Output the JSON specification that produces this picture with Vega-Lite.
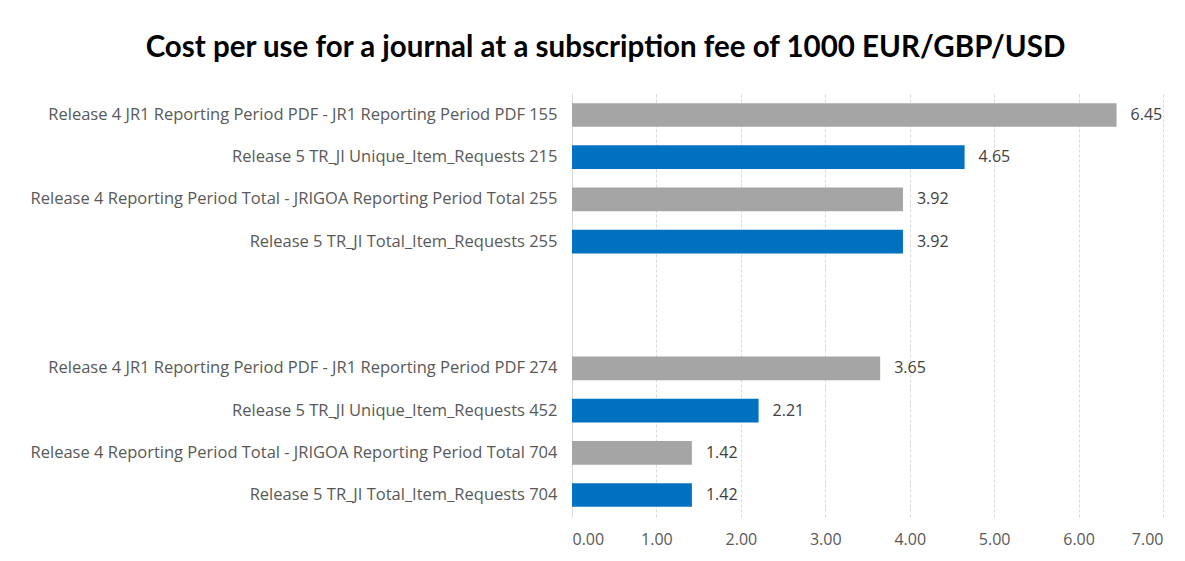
{
  "$schema": "https://vega.github.io/schema/vega-lite/v6.json",
  "width": 591,
  "height": 424,
  "autosize": {"type": "none"},
  "padding": {"left": 572, "top": 93, "right": 22, "bottom": 44},
  "background": "white",
  "title": {
    "text": "Cost per use for a journal at a subscription fee of 1000 EUR/GBP/USD",
    "font": "Lato",
    "fontSize": 29.5,
    "fontWeight": "bold",
    "color": "#000000",
    "anchor": "middle",
    "frame": "group",
    "dx": -262,
    "offset": 30
  },
  "data": {
    "values": [
      {"label": "Release 4 JR1 Reporting Period PDF - JR1 Reporting Period PDF 155", "release": "Release 4", "cost": 6.45},
      {"label": "Release 5 TR_JI Unique_Item_Requests 215", "release": "Release 5", "cost": 4.65},
      {"label": "Release 4 Reporting Period Total - JRIGOA Reporting Period Total 255", "release": "Release 4", "cost": 3.92},
      {"label": "Release 5 TR_JI Total_Item_Requests 255", "release": "Release 5", "cost": 3.92},
      {"label": "Release 4 JR1 Reporting Period PDF - JR1 Reporting Period PDF 274", "release": "Release 4", "cost": 3.65},
      {"label": "Release 5 TR_JI Unique_Item_Requests 452", "release": "Release 5", "cost": 2.21},
      {"label": "Release 4 Reporting Period Total - JRIGOA Reporting Period Total 704", "release": "Release 4", "cost": 1.42},
      {"label": "Release 5 TR_JI Total_Item_Requests 704", "release": "Release 5", "cost": 1.42}
    ]
  },
  "encoding": {
    "y": {
      "field": "label",
      "type": "nominal",
      "title": null,
      "scale": {
        "domain": [
          "Release 4 JR1 Reporting Period PDF - JR1 Reporting Period PDF 155",
          "Release 5 TR_JI Unique_Item_Requests 215",
          "Release 4 Reporting Period Total - JRIGOA Reporting Period Total 255",
          "Release 5 TR_JI Total_Item_Requests 255",
          "gap1",
          "gap2",
          "Release 4 JR1 Reporting Period PDF - JR1 Reporting Period PDF 274",
          "Release 5 TR_JI Unique_Item_Requests 452",
          "Release 4 Reporting Period Total - JRIGOA Reporting Period Total 704",
          "Release 5 TR_JI Total_Item_Requests 704"
        ],
        "paddingInner": 0.44,
        "paddingOuter": 0.24
      },
      "axis": {
        "labelExpr": "indexof(datum.value, 'gap') == 0 ? '' : datum.value",
        "labelFont": "Open Sans",
        "labelFontSize": 16.5,
        "labelColor": "#595959",
        "labelPadding": 15,
        "labelLimit": 700,
        "ticks": false,
        "domain": true,
        "domainColor": "#D9D9D9",
        "grid": false
      }
    }
  },
  "layer": [
    {
      "mark": {"type": "bar"},
      "encoding": {
        "x": {
          "field": "cost",
          "type": "quantitative",
          "title": null,
          "scale": {"domain": [0, 7], "nice": false},
          "axis": {
            "values": [0, 1, 2, 3, 4, 5, 6, 7],
            "format": ".2f",
            "labelFont": "Open Sans",
            "labelFontSize": 16,
            "labelColor": "#595959",
            "labelPadding": 14,
            "ticks": false,
            "domain": false,
            "grid": true,
            "gridColor": "#D9D9D9",
            "gridDash": [3, 2],
            "gridWidth": 1
          }
        },
        "color": {
          "field": "release",
          "type": "nominal",
          "legend": null,
          "scale": {"domain": ["Release 4", "Release 5"], "range": ["#A5A5A5", "#0070C0"]}
        }
      }
    },
    {
      "mark": {"type": "text", "align": "left", "baseline": "middle", "dx": 14, "font": "Open Sans", "fontSize": 16, "color": "#404040"},
      "encoding": {
        "x": {"field": "cost", "type": "quantitative"},
        "text": {"field": "cost", "type": "quantitative", "format": ".2f"}
      }
    }
  ],
  "config": {"view": {"stroke": null}}
}
